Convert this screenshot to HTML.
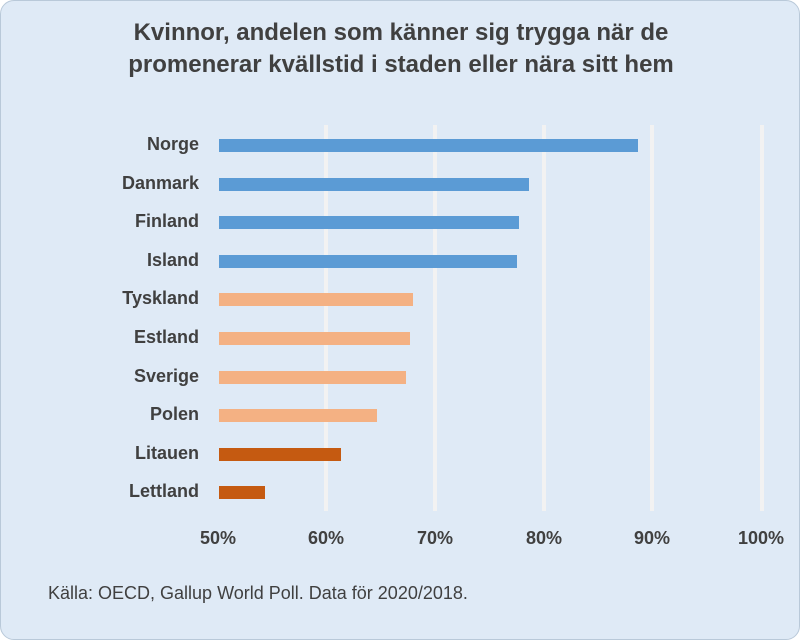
<!DOCTYPE html>
<html><head><meta charset="utf-8"><style>
body{margin:0;background:#fff;}
#c{position:absolute;left:0;top:0;width:798px;height:638px;background:#dfeaf6;border:1px solid #b9c9d9;border-radius:14px;overflow:hidden;font-family:"Liberation Sans",sans-serif;}
.t{position:absolute;left:0;width:800px;text-align:center;font-size:24px;font-weight:bold;color:#404040;}
.g{position:absolute;top:124px;height:386px;width:4px;background:#f2f2f2;}
.b{position:absolute;left:218px;height:13px;}
.l{position:absolute;right:600px;font-size:18px;font-weight:bold;color:#404040;text-align:right;width:200px;}
.x{position:absolute;top:527px;font-size:18px;font-weight:bold;color:#404040;width:80px;text-align:center;}
</style></head><body><div id="c">
<div class="t" style="top:18px">Kvinnor, andelen som känner sig trygga när de</div>
<div class="t" style="top:50px">promenerar kvällstid i staden eller nära sitt hem</div>
<div class="g" style="left:323px"></div><div class="g" style="left:432px"></div><div class="g" style="left:541px"></div><div class="g" style="left:649px"></div><div class="g" style="left:759px"></div>
<div class="b" style="top:138px;width:419px;background:#5b9bd5"></div>
<div class="b" style="top:177px;width:310px;background:#5b9bd5"></div>
<div class="b" style="top:215px;width:300px;background:#5b9bd5"></div>
<div class="b" style="top:254px;width:298px;background:#5b9bd5"></div>
<div class="b" style="top:292px;width:194px;background:#f4b183"></div>
<div class="b" style="top:331px;width:191px;background:#f4b183"></div>
<div class="b" style="top:370px;width:187px;background:#f4b183"></div>
<div class="b" style="top:408px;width:158px;background:#f4b183"></div>
<div class="b" style="top:447px;width:122px;background:#c55a11"></div>
<div class="b" style="top:485px;width:46px;background:#c55a11"></div>
<div class="l" style="top:133px">Norge</div>
<div class="l" style="top:172px">Danmark</div>
<div class="l" style="top:210px">Finland</div>
<div class="l" style="top:249px">Island</div>
<div class="l" style="top:287px">Tyskland</div>
<div class="l" style="top:326px">Estland</div>
<div class="l" style="top:365px">Sverige</div>
<div class="l" style="top:403px">Polen</div>
<div class="l" style="top:442px">Litauen</div>
<div class="l" style="top:480px">Lettland</div>
<div class="x" style="left:177px">50%</div><div class="x" style="left:285px">60%</div><div class="x" style="left:394px">70%</div><div class="x" style="left:503px">80%</div><div class="x" style="left:611px">90%</div><div class="x" style="left:720px">100%</div>
<div style="position:absolute;left:47px;top:582px;font-size:18px;color:#404040;">Källa: OECD, Gallup World Poll. Data för 2020/2018.</div>
</div></body></html>
